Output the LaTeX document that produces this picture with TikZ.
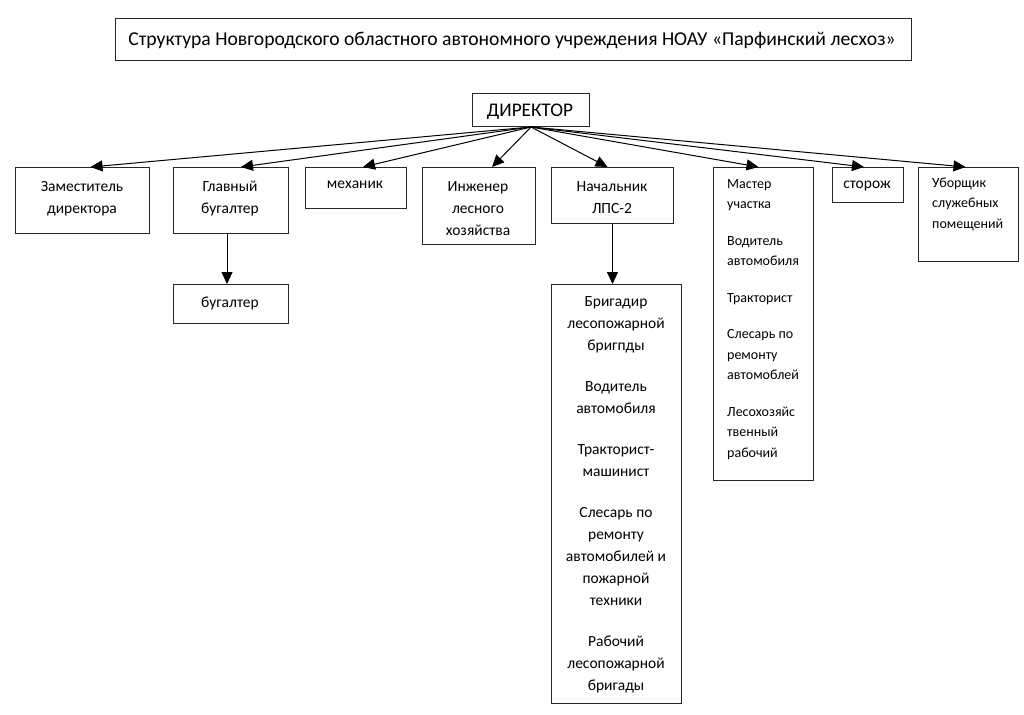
\documentclass[tikz,border=0pt]{standalone}
\usepackage{fontspec}
\setmainfont{Carlito}
\usetikzlibrary{arrows.meta}
\tikzset{
  box/.style={draw=black!85, line width=1pt, inner sep=0pt, anchor=north west},
  txt/.style={inner sep=0pt, align=center, font=\fontsize{15.5}{22}\selectfont},
  txts/.style={inner sep=0pt, align=left, font=\fontsize{14}{20.5}\selectfont},
  arr/.style={line width=1pt, -{Triangle[length=12pt,width=11pt]}}
}
\newcommand{\bx}[5]{\node[box, minimum width={#4-#2}, minimum height={#5-#3}] (#1) at (#2,#3) {};}
\begin{document}
\begin{tikzpicture}[x=1pt,y=-1pt]
\useasboundingbox (0,0) rectangle (1024,714);
% boxes
\bx{title}{115}{18}{911}{60}
\bx{dir}{472}{93}{589}{126}
\bx{zam}{15}{167}{149}{233}
\bx{glav}{173}{167}{288}{233}
\bx{mech}{305}{167}{406}{208}
\bx{inzh}{422}{167}{535}{244}
\bx{bug}{173}{284}{288}{323}
\bx{nach}{551}{167}{673}{223}
\bx{mast}{713}{167}{813}{480}
\bx{stor}{832}{167}{903}{202}
\bx{ubor}{918}{167}{1018}{261}
\bx{big}{551}{284}{681}{703}
% texts (base anchor = baseline of the last line)
\node[inner sep=0pt, font=\fontsize{19.65}{23}\selectfont, anchor=base] (ttitle) at (512,46) {Структура Новгородского областного автономного учреждения НОАУ «Парфинский лесхоз»};
\node[inner sep=0pt, font=\fontsize{19.3}{22}\selectfont, anchor=base] (tdir) at (530,117) {ДИРЕКТОР};
\node[txt, anchor=base] (tzam) at (82,213) {Заместитель\\директора};
\node[txt, anchor=base] (tglav) at (230,213) {Главный\\бугалтер};
\node[txt, anchor=base] (tmech) at (355,189) {механик};
\node[txt, anchor=base] (tinzh) at (478,235) {Инженер\\лесного\\хозяйства};
\node[txt, anchor=base] (tbug) at (230,307) {бугалтер};
\node[txt, anchor=base] (tnach) at (612,213) {Начальник\\ЛПС-2};
\node[txt, anchor=base] (tstor) at (867,188) {сторож};
\node[txts, anchor=base west] (tubor) at (932,228) {Уборщик\\служебных\\помещений};
\node[txts, anchor=base west] (tmast) at (727,457) {Мастер\\участка\\[16pt]Водитель\\автомобиля\\[16pt]Тракторист\\[16pt]Слесарь по\\ремонту\\автомоблей\\[16pt]Лесохозяйс\\твенный\\рабочий};
\node[txt, anchor=base] (tbig) at (616,690) {Бригадир\\лесопожарной\\бригпды\\[19pt]Водитель\\автомобиля\\[19pt]Тракторист-\\машинист\\[19pt]Слесарь по\\ремонту\\автомобилей и\\пожарной\\техники\\[19pt]Рабочий\\лесопожарной\\бригады};
% connectors
\draw[arr] (dir.south) -- ([xshift=8pt]zam.north);
\draw[arr] (dir.south) -- ([xshift=10pt]glav.north);
\draw[arr] (dir.south) -- ([xshift=7pt]mech.north);
\draw[arr] (dir.south) -- ([xshift=13pt]inzh.north);
\draw[arr] (dir.south) -- ([xshift=-5pt]nach.north);
\draw[arr] (dir.south) -- ([xshift=-5pt]mast.north);
\draw[arr] (dir.south) -- ([xshift=-4pt]stor.north);
\draw[arr] (dir.south) -- ([xshift=-3pt]ubor.north);
\draw[arr] ([xshift=-4pt]glav.south) -- ([xshift=-4pt]bug.north);
\draw[arr] (nach.south) -- (nach.south |- big.north);
\end{tikzpicture}
\end{document}
